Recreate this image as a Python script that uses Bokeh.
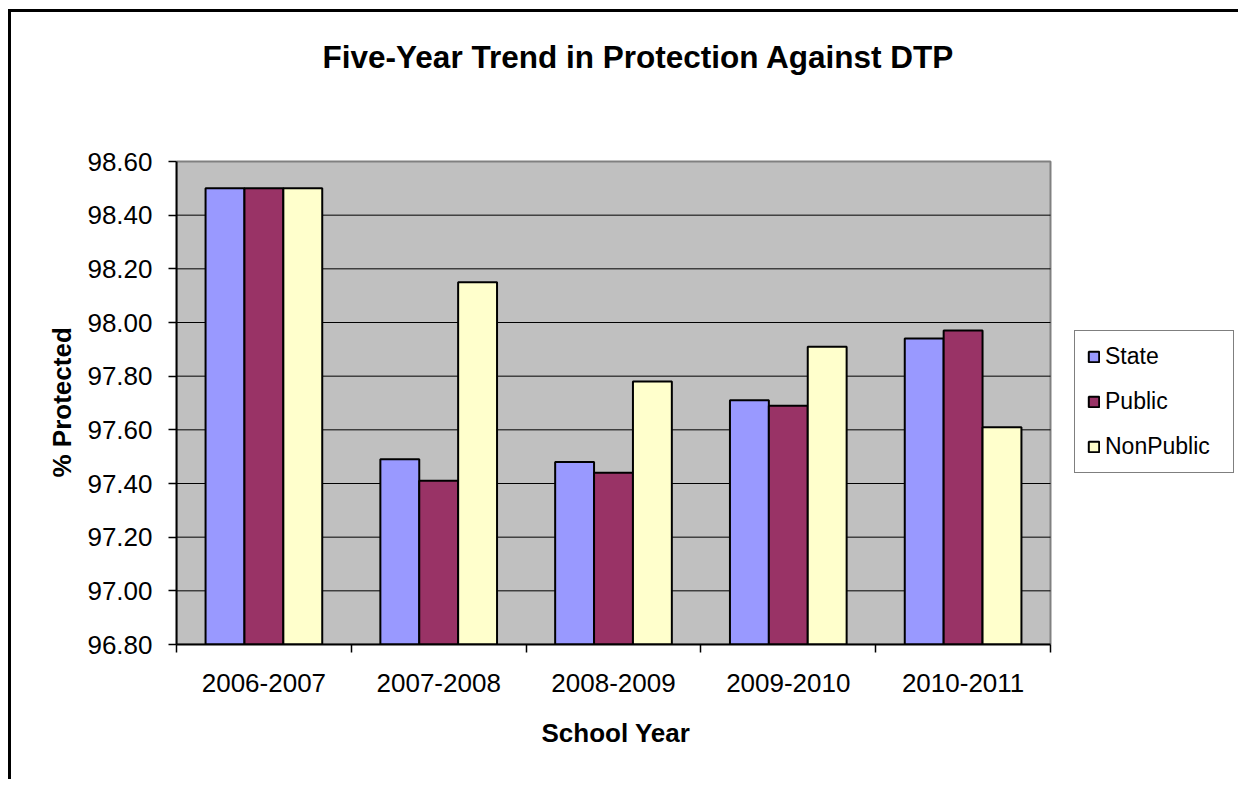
from bokeh.plotting import figure
from bokeh.models import (ColumnDataSource, Range1d, FixedTicker, NumeralTickFormatter,
                          Legend, LegendItem, Label, Title)
from bokeh.transform import dodge
from bokeh.embed import file_html
from bokeh.resources import INLINE

# ---- data ----
years = ["2006-2007", "2007-2008", "2008-2009", "2009-2010", "2010-2011"]
state = [98.50, 97.49, 97.48, 97.71, 97.94]
public = [98.50, 97.41, 97.44, 97.69, 97.97]
nonpublic = [98.50, 98.15, 97.78, 97.91, 97.61]
series_names = ["State", "Public", "NonPublic"]
series_colors = ["#9999FF", "#993366", "#FFFFCC"]
y_ticks = [96.8, 97.0, 97.2, 97.4, 97.6, 97.8, 98.0, 98.2, 98.4, 98.6]
title_text = "Five-Year Trend in Protection Against DTP"
x_title = "School Year"
y_title = "% Protected"

FONT = "Liberation Sans"
BW = 0.2225

# ---- layout (pixels) ----
W, H = 1230, 770
LEFT, BOTTOM, RIGHT, TOP = 165, 138, 0, 0
PLOT_W, PLOT_H = 874, 483          # size of the grey plotting area
FRAME_W = W - LEFT - RIGHT
FRAME_H = H - BOTTOM - TOP

n = len(years)
x0, x1 = -0.5, n - 0.5
y0, y1 = y_ticks[0], y_ticks[-1]
x_end = x0 + (x1 - x0) * FRAME_W / PLOT_W
y_end = y0 + (y1 - y0) * FRAME_H / PLOT_H

idx = list(range(n))
source = ColumnDataSource(dict(x=idx, State=state, Public=public, NonPublic=nonpublic))

p = figure(width=W, height=H,
           x_range=Range1d(x0, x_end), y_range=Range1d(y0, y_end),
           output_backend="svg", toolbar_location=None,
           min_border_left=LEFT, min_border_top=TOP, min_border_right=RIGHT,
           min_border_bottom=BOTTOM)
p.styles = {"border-left": "3px solid black", "border-top": "3px solid black",
            "margin-left": "8px", "margin-top": "9px"}

p.background_fill_color = "white"
p.border_fill_color = "white"
p.outline_line_color = None
p.xgrid.visible = False
p.ygrid.visible = False

# grey plot area
p.quad(left=x0, right=x1, bottom=y0, top=y1, fill_color="#C0C0C0",
       line_color="#808080", line_width=2)
# gridlines
inner = y_ticks[1:-1]
p.segment(x0=[x0] * len(inner), x1=[x1] * len(inner), y0=inner, y1=inner,
          line_color="black", line_width=1)

renderers = []
for k, (name, col) in enumerate(zip(series_names, series_colors)):
    r = p.vbar(x=dodge("x", (k - 1) * BW, range=p.x_range), top=name, bottom=y0, width=BW,
               source=source, fill_color=col, line_color="black", line_width=2)
    renderers.append(r)

# y axis
ya = p.yaxis[0]
ya.bounds = (y0, y1)
ya.ticker = FixedTicker(ticks=y_ticks)
ya.formatter = NumeralTickFormatter(format="0.00")
ya.major_label_text_font = FONT
ya.major_label_text_font_size = "26px"
ya.major_label_text_color = "black"
ya.major_tick_out = 8
ya.major_tick_in = 0
ya.minor_tick_line_color = None
ya.axis_line_width = 2
ya.axis_line_color = "black"
ya.major_tick_line_width = 1.5
ya.major_label_standoff = 16

# x axis
xa = p.xaxis[0]
xa.bounds = (x0, x1)
xa.ticker = FixedTicker(ticks=idx, minor_ticks=[i - 0.5 for i in range(n + 1)])
xa.major_label_overrides = {i: y for i, y in zip(idx, years)}
xa.major_label_text_font = FONT
xa.major_label_text_font_size = "26px"
xa.major_label_text_color = "black"
xa.major_tick_out = 0
xa.major_tick_in = 0
xa.minor_tick_out = 8
xa.minor_tick_in = 0
xa.minor_tick_line_color = "black"
xa.minor_tick_line_width = 1.5
xa.axis_line_width = 2
xa.axis_line_color = "black"
xa.major_label_standoff = 21

# axis titles (centred on the grey plot area, not the whole frame)
p.add_layout(Title(text=y_title, text_font=FONT, text_font_size="26px", text_font_style="bold",
                   text_color="black", align="left", offset=167, standoff=16), "left")
p.add_layout(Title(text=x_title, text_font=FONT, text_font_size="26px", text_font_style="bold",
                   text_color="black", align="left", offset=365, vertical_align="top",
                   standoff=46), "below")

# chart title
p.add_layout(Label(x=624, y=41, x_units="canvas", y_units="canvas", text=title_text,
                   text_font=FONT, text_font_size="31.5px", text_font_style="bold",
                   text_align="center", text_baseline="alphabetic", text_color="black"))

# legend
legend = Legend(items=[LegendItem(label=nm, renderers=[r]) for nm, r in zip(series_names, renderers)],
                location=(898, 171), margin=0, padding=12, spacing=18,
                glyph_width=13, glyph_height=13, label_standoff=5, label_width=116,
                label_text_font=FONT, label_text_font_size="23px", label_text_color="black",
                border_line_color="black", border_line_width=1,
                background_fill_color="white", background_fill_alpha=1)
p.add_layout(legend)

open("out.html", "w").write(file_html(p, INLINE))
